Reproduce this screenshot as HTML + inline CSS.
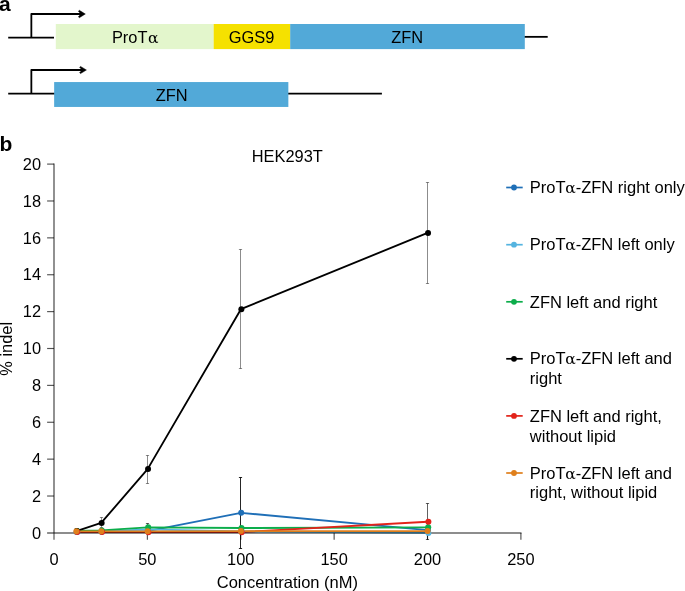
<!DOCTYPE html>
<html lang="en"><head><meta charset="utf-8"><title>Figure</title>
<style>html,body{margin:0;padding:0;background:#fff}svg{display:block}text{font-family:"Liberation Sans",Arial,Helvetica,sans-serif;fill:#000}.s{font-family:"DejaVu Math TeX Gyre","DejaVu Serif",serif;font-size:15.6px}</style></head><body>
<svg width="685" height="591" viewBox="0 0 685 591">
<rect width="685" height="591" fill="#fff"/>
<text x="-1.0" y="10.95" font-size="21" font-weight="bold">a</text>
<g stroke="#000" stroke-width="1.8" fill="none" stroke-linejoin="round">
<path d="M8.2 37.55H54M31.35 37.55V14H82"/>
<path d="M524 36.85H547.7"/>
<path d="M8.2 93.7H55M31.35 93.7V70H83"/>
<path d="M288 93.6H381.9"/>
</g>
<path d="M85.3 14L79.3 10.3L78.4 11.2L80.9 14L78.4 16.8L79.3 17.7Z" fill="#000" stroke="#000" stroke-width="0.5" stroke-linejoin="round"/>
<path d="M86.4 70L80.5 66.4L79.6 67.3L82.1 70L79.6 72.7L80.5 73.6Z" fill="#000" stroke="#000" stroke-width="0.5" stroke-linejoin="round"/>
<rect x="55.8" y="24" width="158" height="25.1" fill="#e3f6cc"/>
<rect x="213.7" y="24" width="76.6" height="25.1" fill="#f5e100"/>
<rect x="290.2" y="24" width="234.6" height="25.1" fill="#52a9d8"/>
<rect x="54.15" y="82.05" width="234.2" height="24.9" fill="#52a9d8"/>
<text x="135.6" y="42.7" font-size="16.4" text-anchor="middle">ProT<tspan class="s">α</tspan></text>
<text x="251.6" y="42.7" font-size="16.4" text-anchor="middle">GGS9</text>
<text x="407.2" y="42.7" font-size="16.4" text-anchor="middle">ZFN</text>
<text x="171.6" y="100.6" font-size="16.4" text-anchor="middle">ZFN</text>
<text x="-0.4" y="150.5" font-size="21" font-weight="bold">b</text>
<text x="287.3" y="162.4" font-size="16.4" text-anchor="middle">HEK293T</text>
<polyline points="76.4,531.98 101.2,531.79 147.6,531.06 240.9,512.8 427.6,530.13" fill="none" stroke="#1f6fb7" stroke-width="1.85" stroke-linejoin="round"/>
<polyline points="76.4,531.98 101.2,531.42 147.6,529.4 240.9,531.42 427.6,532.9" fill="none" stroke="#55b4e0" stroke-width="1.85" stroke-linejoin="round"/>
<polyline points="76.4,530.96 101.2,530.41 147.6,527.37 240.9,528.01 427.6,527.37" fill="none" stroke="#0cad4b" stroke-width="1.85" stroke-linejoin="round"/>
<polyline points="76.4,531.06 101.2,522.94 147.6,469.1 240.9,309.22 427.6,232.88" fill="none" stroke="#000000" stroke-width="1.85" stroke-linejoin="round"/>
<polyline points="76.4,532.07 101.2,532.07 147.6,532.16 240.9,532.16 427.6,521.74" fill="none" stroke="#e2231a" stroke-width="1.85" stroke-linejoin="round"/>
<polyline points="76.4,531.42 101.2,531.42 147.6,531.42 240.9,531.15 427.6,531.06" fill="none" stroke="#df7f1c" stroke-width="1.85" stroke-linejoin="round"/>
<g stroke="#000" stroke-opacity="0.6" stroke-width="1.45" fill="none">
<path d="M54.0 163.6V532.9"/>
<path d="M47.1 532.9H521.5"/>
</g>
<g stroke="#000" stroke-opacity="0.68" stroke-width="1.15" fill="none">
<path d="M47.1 496.02H54.0"/>
<path d="M47.1 459.14H54.0"/>
<path d="M47.1 422.26H54.0"/>
<path d="M47.1 385.38H54.0"/>
<path d="M47.1 348.5H54.0"/>
<path d="M47.1 311.62H54.0"/>
<path d="M47.1 274.74H54.0"/>
<path d="M47.1 237.86H54.0"/>
<path d="M47.1 200.98H54.0"/>
<path d="M47.1 164.1H54.0"/>
<path d="M54.0 532.9V539.7"/>
<path d="M147.38 532.9V539.7"/>
<path d="M240.76 532.9V539.7"/>
<path d="M334.14 532.9V539.7"/>
<path d="M427.52 532.9V539.7"/>
<path d="M520.9 532.9V539.7"/>
</g>
<text x="41.1" y="538.6" font-size="16.4" text-anchor="end">0</text>
<text x="41.1" y="501.72" font-size="16.4" text-anchor="end">2</text>
<text x="41.1" y="464.84" font-size="16.4" text-anchor="end">4</text>
<text x="41.1" y="427.96" font-size="16.4" text-anchor="end">6</text>
<text x="41.1" y="391.08" font-size="16.4" text-anchor="end">8</text>
<text x="41.1" y="354.2" font-size="16.4" text-anchor="end">10</text>
<text x="41.1" y="317.32" font-size="16.4" text-anchor="end">12</text>
<text x="41.1" y="280.44" font-size="16.4" text-anchor="end">14</text>
<text x="41.1" y="243.56" font-size="16.4" text-anchor="end">16</text>
<text x="41.1" y="206.68" font-size="16.4" text-anchor="end">18</text>
<text x="41.1" y="169.8" font-size="16.4" text-anchor="end">20</text>
<text x="54.0" y="564.65" font-size="16.4" text-anchor="middle">0</text>
<text x="147.38" y="564.65" font-size="16.4" text-anchor="middle">50</text>
<text x="240.76" y="564.65" font-size="16.4" text-anchor="middle">100</text>
<text x="334.14" y="564.65" font-size="16.4" text-anchor="middle">150</text>
<text x="427.52" y="564.65" font-size="16.4" text-anchor="middle">200</text>
<text x="520.9" y="564.65" font-size="16.4" text-anchor="middle">250</text>
<text x="287.4" y="587.55" font-size="16.5" text-anchor="middle">Concentration (nM)</text>
<text transform="translate(12.3,348.8) rotate(-90)" font-size="16.4" text-anchor="middle">% indel</text>
<g stroke="#000" stroke-width="1" fill="none">
<path stroke-opacity="0.85" d="M240.5 477.5V548.5M238.9 477.5H242.1M238.9 548.5H242.1"/>
<path stroke-opacity="0.6" d="M147.5 523.5V531.5M145.9 523.5H149.1M145.9 531.5H149.1"/>
<path stroke-opacity="0.45" d="M101.5 517.5V527.5M99.9 517.5H103.1M99.9 527.5H103.1"/>
<path stroke-opacity="0.45" d="M147.5 455.5V483.5M145.9 455.5H149.1M145.9 483.5H149.1"/>
<path stroke-opacity="0.45" d="M240.5 249.5V368.5M238.9 249.5H242.1M238.9 368.5H242.1"/>
<path stroke-opacity="0.45" d="M427.5 182.5V283.5M425.9 182.5H429.1M425.9 283.5H429.1"/>
<path stroke-opacity="0.62" d="M427.5 503.5V539.5M425.9 503.5H429.1M425.9 539.5H429.1"/>
</g>
<circle cx="76.7" cy="531.98" r="3" fill="#1f6fb7"/>
<circle cx="101.5" cy="531.79" r="3" fill="#1f6fb7"/>
<circle cx="147.9" cy="531.06" r="3" fill="#1f6fb7"/>
<circle cx="241.2" cy="512.8" r="3" fill="#1f6fb7"/>
<circle cx="427.9" cy="530.13" r="3" fill="#1f6fb7"/>
<circle cx="77.2" cy="531.98" r="3" fill="#55b4e0"/>
<circle cx="102.0" cy="531.42" r="3" fill="#55b4e0"/>
<circle cx="148.4" cy="529.4" r="3" fill="#55b4e0"/>
<circle cx="241.7" cy="531.42" r="3" fill="#55b4e0"/>
<circle cx="428.4" cy="532.9" r="3" fill="#55b4e0"/>
<circle cx="77.0" cy="530.96" r="3" fill="#0cad4b"/>
<circle cx="101.8" cy="530.41" r="3" fill="#0cad4b"/>
<circle cx="148.2" cy="527.37" r="3" fill="#0cad4b"/>
<circle cx="241.5" cy="528.01" r="3" fill="#0cad4b"/>
<circle cx="428.2" cy="527.37" r="3" fill="#0cad4b"/>
<circle cx="76.85" cy="531.06" r="3" fill="#000000"/>
<circle cx="101.65" cy="522.94" r="3" fill="#000000"/>
<circle cx="148.05" cy="469.1" r="3" fill="#000000"/>
<circle cx="241.35" cy="309.22" r="3" fill="#000000"/>
<circle cx="428.05" cy="232.88" r="3" fill="#000000"/>
<circle cx="77.2" cy="532.07" r="3" fill="#e2231a"/>
<circle cx="102.0" cy="532.07" r="3" fill="#e2231a"/>
<circle cx="148.4" cy="532.16" r="3" fill="#e2231a"/>
<circle cx="241.7" cy="532.16" r="3" fill="#e2231a"/>
<circle cx="428.4" cy="521.74" r="3" fill="#e2231a"/>
<circle cx="76.4" cy="531.15" r="3" fill="#df7f1c"/>
<circle cx="101.2" cy="531.15" r="3" fill="#df7f1c"/>
<circle cx="147.6" cy="531.15" r="3" fill="#df7f1c"/>
<circle cx="240.9" cy="531.06" r="3" fill="#df7f1c"/>
<circle cx="427.6" cy="531.06" r="3" fill="#df7f1c"/>
<path d="M506.2 187.5H522.7" stroke="#1f6fb7" stroke-width="1.7" fill="none"/>
<circle cx="514" cy="187.5" r="2.9" fill="#1f6fb7"/>
<text x="529.8" y="192.6" font-size="16.5">ProT<tspan class="s" dx="-0.8">α</tspan><tspan dx="-0.9">-ZFN right only</tspan></text>
<path d="M506.2 244.7H522.7" stroke="#55b4e0" stroke-width="1.7" fill="none"/>
<circle cx="514" cy="244.7" r="2.9" fill="#55b4e0"/>
<text x="529.8" y="250.2" font-size="16.5">ProT<tspan class="s" dx="-0.8">α</tspan><tspan dx="-0.9">-ZFN left only</tspan></text>
<path d="M506.2 301.8H522.7" stroke="#0cad4b" stroke-width="1.7" fill="none"/>
<circle cx="514" cy="301.8" r="2.9" fill="#0cad4b"/>
<text x="529.8" y="307.6" font-size="16.5">ZFN left and right</text>
<path d="M506.2 358.8H522.7" stroke="#000000" stroke-width="1.7" fill="none"/>
<circle cx="514" cy="358.8" r="2.9" fill="#000000"/>
<text x="529.8" y="364.3" font-size="16.5">ProT<tspan class="s" dx="-0.8">α</tspan><tspan dx="-0.9">-ZFN left and</tspan></text>
<text x="529.8" y="384.0" font-size="16.5">right</text>
<path d="M506.2 415.9H522.7" stroke="#e2231a" stroke-width="1.7" fill="none"/>
<circle cx="514" cy="415.9" r="2.9" fill="#e2231a"/>
<text x="529.8" y="422.0" font-size="16.5">ZFN left and right,</text>
<text x="529.8" y="441.7" font-size="16.5">without lipid</text>
<path d="M506.2 473.0H522.7" stroke="#df7f1c" stroke-width="1.7" fill="none"/>
<circle cx="514" cy="473.0" r="2.9" fill="#df7f1c"/>
<text x="529.8" y="478.7" font-size="16.5">ProT<tspan class="s" dx="-0.8">α</tspan><tspan dx="-0.9">-ZFN left and</tspan></text>
<text x="529.8" y="498.4" font-size="16.5">right, without lipid</text>
</svg></body></html>
